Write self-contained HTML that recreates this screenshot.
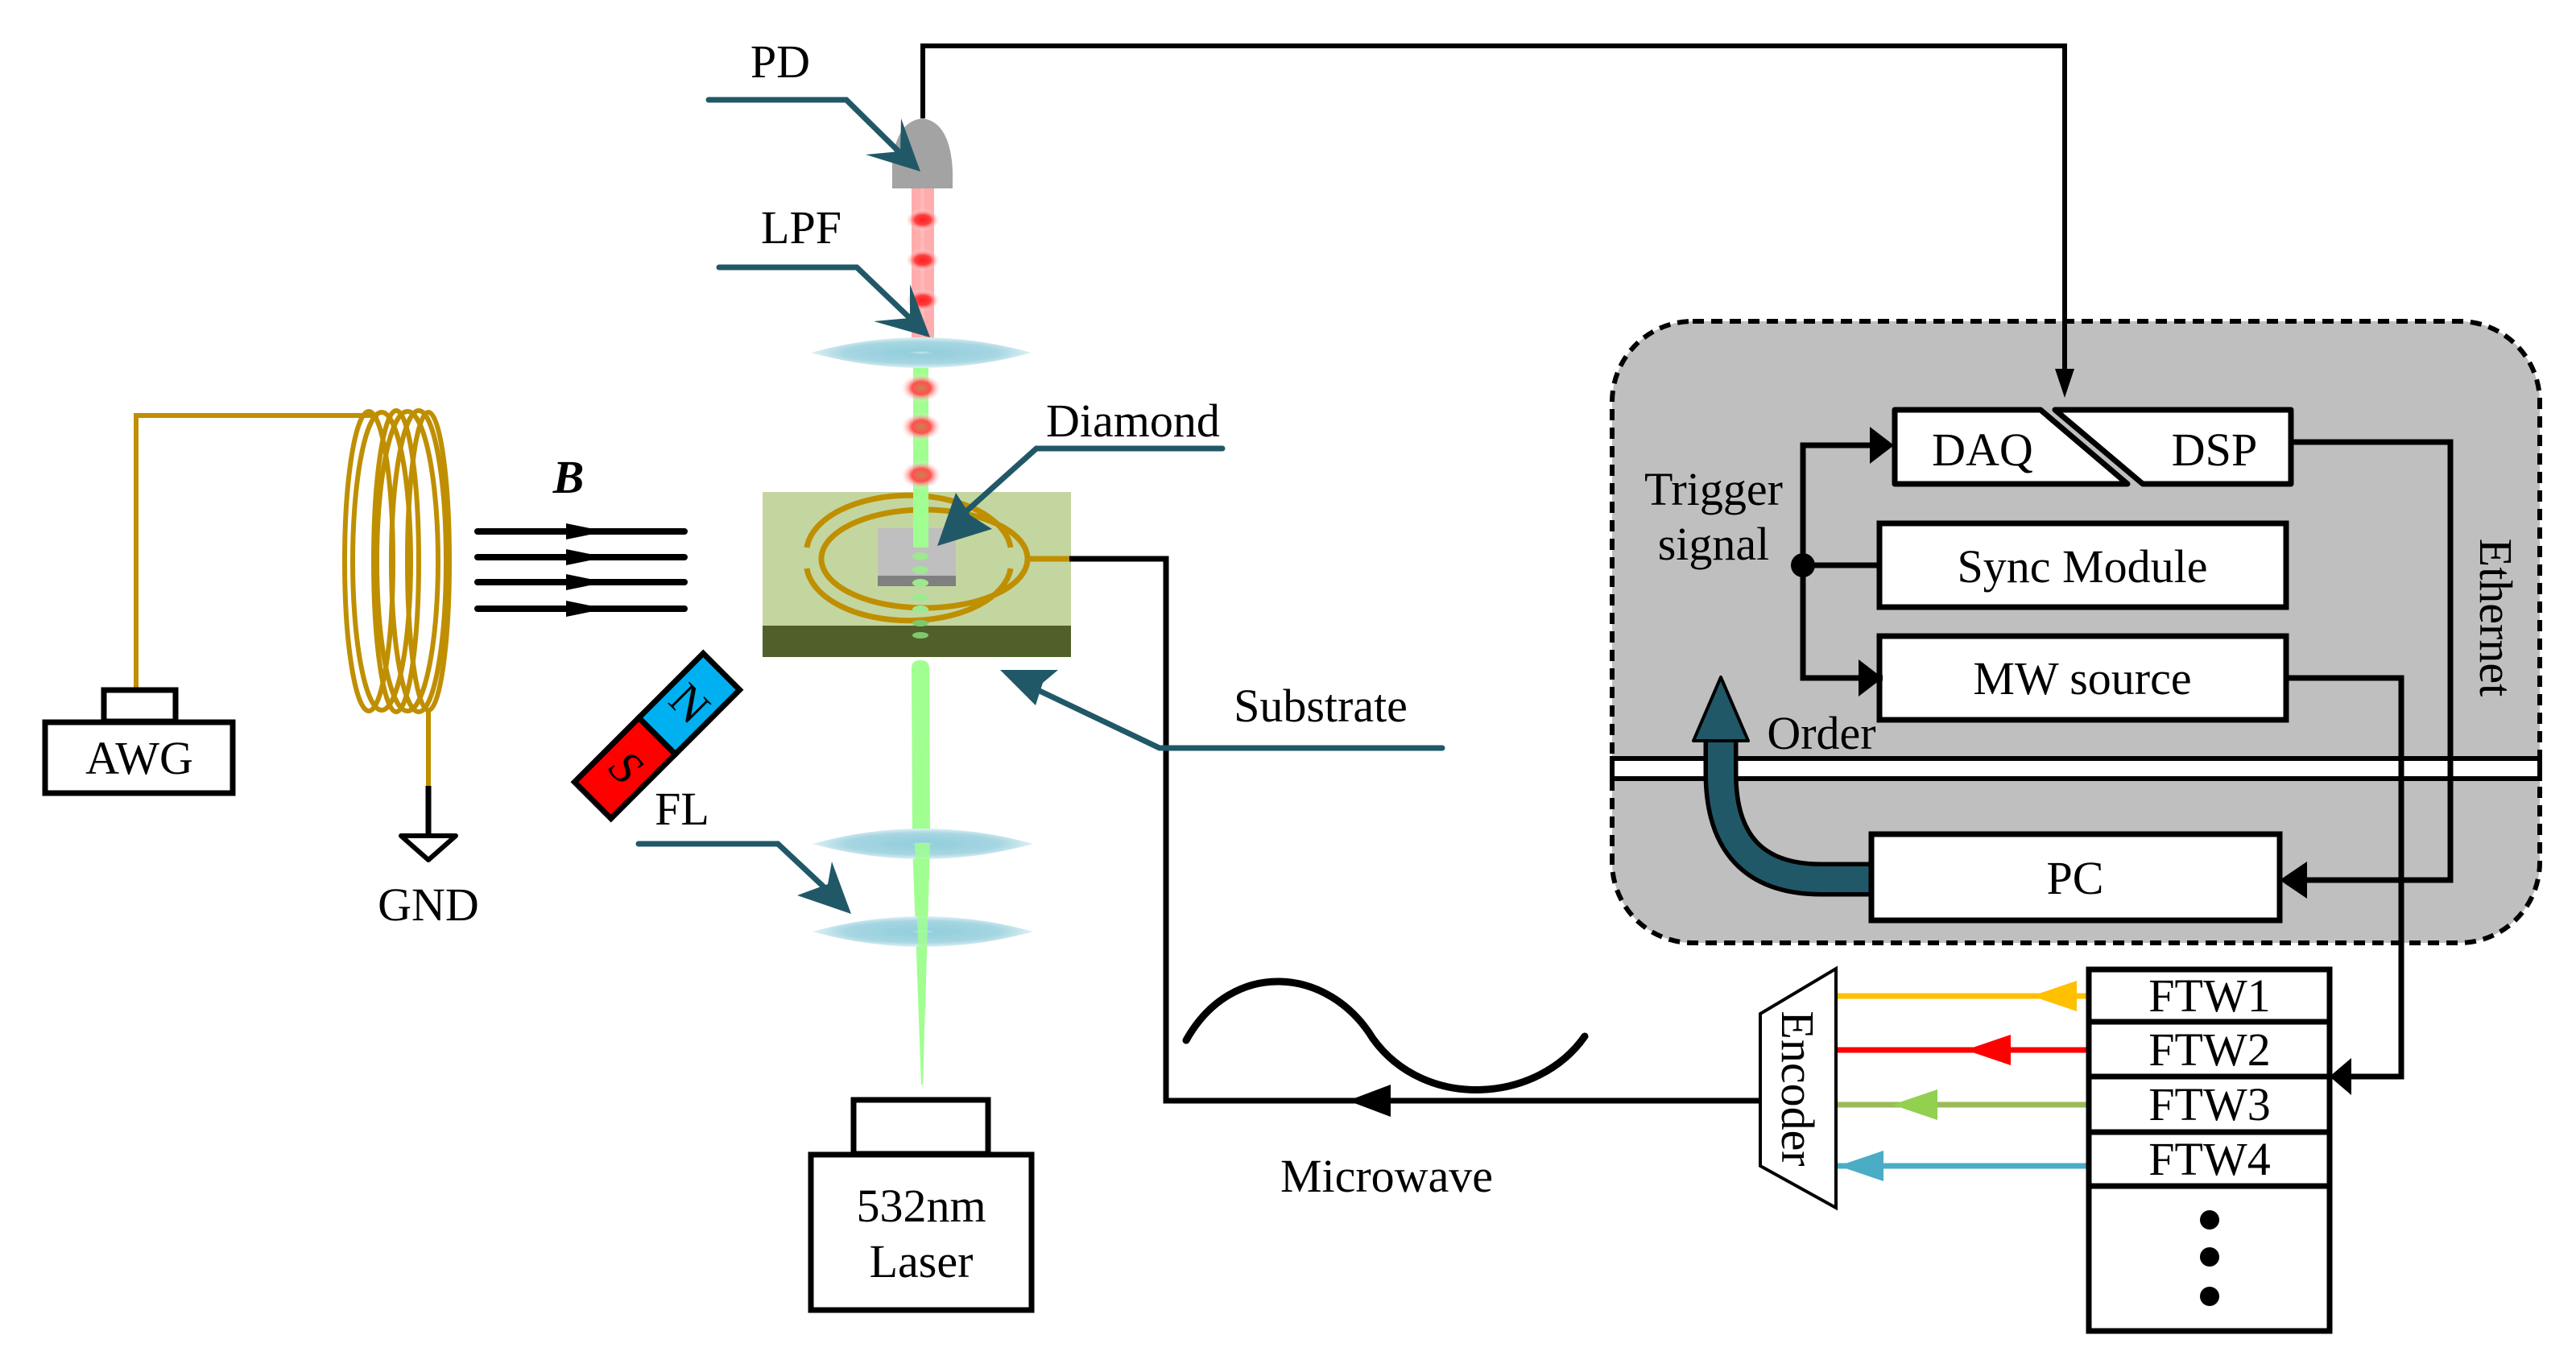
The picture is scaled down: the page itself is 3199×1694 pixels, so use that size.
<!DOCTYPE html>
<html><head><meta charset="utf-8"><style>
html,body{margin:0;padding:0;background:#fff}
svg{display:block}
text{font-family:"Liberation Serif","Times New Roman","DejaVu Serif",serif;font-size:58px;fill:#000}
</style></head><body>
<svg width="3199" height="1694" viewBox="0 0 3199 1694" xmlns="http://www.w3.org/2000/svg" font-family="'Liberation Serif','Times New Roman','DejaVu Serif',serif">
<defs>
<radialGradient id="lens" cx="0.5" cy="0.5" r="0.5">
<stop offset="0" stop-color="#c8e4ee"/><stop offset="0.12" stop-color="#94cedc"/><stop offset="0.7" stop-color="#a6d6e2"/><stop offset="1" stop-color="#dff0f5"/>
</radialGradient>
<radialGradient id="rdot" cx="0.5" cy="0.5" r="0.5">
<stop offset="0" stop-color="#ff2020"/><stop offset="0.45" stop-color="#ff4040"/><stop offset="1" stop-color="#ffffff" stop-opacity="0"/>
</radialGradient>
<radialGradient id="rdot2" cx="0.5" cy="0.5" r="0.5">
<stop offset="0" stop-color="#d08050"/><stop offset="0.45" stop-color="#ff5050"/><stop offset="1" stop-color="#ffffff" stop-opacity="0"/>
</radialGradient>
</defs>

<rect x="2002" y="399" width="1152" height="772" rx="100" fill="#bfbfbf" stroke="#000" stroke-width="6" stroke-dasharray="14,9"/>

<polyline points="1146,147 1146,57 2564,57 2564,470" fill="none" stroke="#000" stroke-width="6"/>
<polygon points="2552,458 2576,458 2564,494" fill="#000"/>

<rect x="1132" y="234" width="28" height="190" fill="#ff9090" opacity="0.75"/>
<rect x="1143" y="234" width="5" height="190" fill="#ffb8b8"/>
<path d="M1108,234 L1108,205 Q1112,150 1146,147 Q1180,152 1183,212 L1183,234 Z" fill="#a3a3a3"/>
<ellipse cx="1146" cy="273" rx="22" ry="14" fill="url(#rdot)"/>
<ellipse cx="1146" cy="323" rx="22" ry="14" fill="url(#rdot)"/>
<ellipse cx="1146" cy="373" rx="22" ry="14" fill="url(#rdot)"/>

<rect x="1134" y="440" width="19" height="240" fill="#a0ff90"/>
<ellipse cx="1144" cy="482" rx="26" ry="18" fill="url(#rdot2)"/>
<ellipse cx="1144" cy="530" rx="26" ry="18" fill="url(#rdot2)"/>
<ellipse cx="1144" cy="590" rx="26" ry="18" fill="url(#rdot2)"/>
<path d="M1007,438 Q1144,400 1281,438 Q1144,476 1007,438 Z" fill="url(#lens)"/>

<rect x="947" y="611" width="383" height="166" fill="#c4d6a0"/>
<rect x="947" y="777" width="383" height="39" fill="#51602b"/>
<rect x="1090" y="656" width="97" height="59" fill="#bfbfbf"/>
<rect x="1090" y="715" width="97" height="13" fill="#808080"/>
<path d="M1002,680 A127,71 0 0 1 1255,680" fill="none" stroke="#bf8f00" stroke-width="7"/>
<path d="M1002,706 A127,71 0 0 0 1255,706" fill="none" stroke="#bf8f00" stroke-width="7"/>
<ellipse cx="1148" cy="694" rx="128" ry="61" fill="none" stroke="#bf8f00" stroke-width="7"/>
<line x1="1276" y1="694" x2="1330" y2="694" stroke="#bf8f00" stroke-width="7"/>
<rect x="1134" y="611" width="19" height="69" fill="#a0ff90"/>
<g fill="#9ee890">
<ellipse cx="1143" cy="691" rx="10" ry="5"/><ellipse cx="1143" cy="708" rx="10" ry="5"/><ellipse cx="1143" cy="724" rx="10" ry="5"/><ellipse cx="1143" cy="742" rx="10" ry="5"/><ellipse cx="1143" cy="757" rx="10" ry="5"/><ellipse cx="1143" cy="774" rx="10" ry="4" fill="#80c870"/><ellipse cx="1143" cy="789" rx="10" ry="4" fill="#80c870"/>
</g>

<path d="M1132,830 Q1132,820 1143,820 Q1154,820 1154,830 L1155,1048 L1146,1347 L1144,1347 L1133,1048 Z" fill="#a0ff90"/>
<path d="M1009,1048 Q1146,1010 1283,1048 Q1146,1086 1009,1048 Z" fill="url(#lens)"/>
<path d="M1009,1157 Q1146,1119 1283,1157 Q1146,1195 1009,1157 Z" fill="url(#lens)"/>
<path d="M1136,1048 L1155,1048 L1146,1347 Z" fill="#a0ff90" opacity="0.85"/>

<rect x="1060" y="1366" width="167" height="67" fill="#fff" stroke="#000" stroke-width="7"/>
<rect x="1007" y="1434" width="274" height="193" fill="#fff" stroke="#000" stroke-width="7"/>
<text x="1144" y="1517" text-anchor="middle">532nm</text>
<text x="1144" y="1586" text-anchor="middle">Laser</text>

<polyline points="1328,694 1448,694 1448,1367 2186,1367" fill="none" stroke="#000" stroke-width="7"/>
<polygon points="1674,1367 1727,1347 1727,1387" fill="#000"/>
<path d="M1473,1292 C1530,1190 1650,1200 1705,1290 C1770,1380 1910,1370 1968,1287" fill="none" stroke="#000" stroke-width="9" stroke-linecap="round"/>
<text x="1722" y="1480" text-anchor="middle">Microwave</text>

<g stroke="#215868" stroke-width="7" fill="none" stroke-linecap="round">
<polyline points="880,124 1051,124 1118,190"/>
<polyline points="893,332 1064,332 1132,397"/>
<polyline points="1518,557 1287,557 1200,635"/>
<polyline points="793,1048 966,1048 1030,1108"/>
<polyline points="1791,929 1440,929 1270,848"/>
</g>
<g fill="#215868">
<polygon points="1143,213 1119,147 1118,188 1075,192"/>
<polygon points="1155,419 1130,353 1130,395 1085,399"/>
<polygon points="1164,678 1187,612 1205,640 1232,657"/>
<polygon points="1057,1135 1033,1070 1028,1098 990,1112"/>
<polygon points="1242,832 1314,832 1295,848 1286,876"/>
</g>
<text x="969" y="96" text-anchor="middle">PD</text>
<text x="995" y="302" text-anchor="middle">LPF</text>
<text x="1299" y="542">Diamond</text>
<text x="847" y="1024" text-anchor="middle">FL</text>
<text x="1640" y="896" text-anchor="middle">Substrate</text>

<polyline points="470,516 169,516 169,857" fill="none" stroke="#bf8f00" stroke-width="6"/>
<g fill="none" stroke="#bf8f00" stroke-width="6">
<ellipse cx="458" cy="697" rx="30" ry="186"/>
<ellipse cx="474" cy="697" rx="36" ry="185"/>
<ellipse cx="492" cy="697" rx="28" ry="187"/>
<ellipse cx="506" cy="697" rx="38" ry="186"/>
<ellipse cx="520" cy="697" rx="34" ry="187"/>
<ellipse cx="532" cy="697" rx="26" ry="185"/>
</g>
<line x1="532" y1="880" x2="532" y2="976" stroke="#bf8f00" stroke-width="6"/>
<line x1="532" y1="976" x2="532" y2="1037" stroke="#000" stroke-width="7"/>
<polygon points="498,1038 566,1038 532,1068" fill="#fff" stroke="#000" stroke-width="6" stroke-linejoin="round"/>
<text x="532" y="1143" text-anchor="middle">GND</text>
<rect x="129" y="857" width="89" height="39" fill="#fff" stroke="#000" stroke-width="7"/>
<rect x="56" y="897" width="233" height="88" fill="#fff" stroke="#000" stroke-width="7"/>
<text x="173" y="961" text-anchor="middle">AWG</text>

<g stroke="#000" stroke-width="8" stroke-linecap="round">
<line x1="593" y1="660" x2="850" y2="660"/><line x1="593" y1="692" x2="850" y2="692"/>
<line x1="593" y1="723" x2="850" y2="723"/><line x1="593" y1="756" x2="850" y2="756"/>
</g>
<g fill="#000">
<polygon points="703,650 752,660 703,670"/><polygon points="703,682 752,692 703,702"/>
<polygon points="703,713 752,723 703,733"/><polygon points="703,746 752,756 703,766"/>
</g>
<text x="706" y="612" text-anchor="middle" font-weight="bold" font-style="italic">B</text>

<g transform="translate(816,914) rotate(-45)">
<rect x="-113" y="-32" width="113" height="64" fill="#ff0000" stroke="#000" stroke-width="7"/>
<rect x="0" y="-32" width="113" height="64" fill="#00b0f0" stroke="#000" stroke-width="7"/>
<text x="-56" y="18" text-anchor="middle" font-size="50" font-style="italic" transform="rotate(90,-56,0)">S</text>
<text x="56" y="18" text-anchor="middle" font-size="50" transform="rotate(90,56,0)">N</text>
</g>

<path d="M2353,509 L2534,509 L2642,601 L2353,601 Z" fill="#fff" stroke="#000" stroke-width="7" stroke-linejoin="round"/>
<path d="M2552,509 L2845,509 L2845,601 L2661,601 Z" fill="#fff" stroke="#000" stroke-width="7" stroke-linejoin="round"/>
<text x="2462" y="578" text-anchor="middle">DAQ</text>
<text x="2750" y="578" text-anchor="middle">DSP</text>
<rect x="2334" y="650" width="505" height="104" fill="#fff" stroke="#000" stroke-width="7"/>
<text x="2586" y="723" text-anchor="middle">Sync Module</text>
<rect x="2334" y="790" width="505" height="104" fill="#fff" stroke="#000" stroke-width="7"/>
<text x="2586" y="862" text-anchor="middle">MW source</text>
<text x="2128" y="627" text-anchor="middle">Trigger</text>
<text x="2128" y="695" text-anchor="middle">signal</text>
<polyline points="2338,553 2239,553 2239,842 2338,842" fill="none" stroke="#000" stroke-width="7"/>
<line x1="2239" y1="702" x2="2334" y2="702" stroke="#000" stroke-width="7"/>
<circle cx="2239" cy="702" r="15" fill="#000"/>
<polygon points="2352,553 2322,530 2322,576" fill="#000"/>
<polygon points="2338,842 2308,819 2308,865" fill="#000"/>

<rect x="2002" y="942" width="1152" height="25" fill="#fff" stroke="#000" stroke-width="6"/>
<text transform="translate(3080,767) rotate(90)" text-anchor="middle">Ethernet</text>

<polyline points="2845,549 3043,549 3043,1093 2845,1093" fill="none" stroke="#000" stroke-width="7"/>
<polygon points="2831,1093 2865,1070 2865,1116" fill="#000"/>
<polyline points="2839,842 2982,842 2982,1337 2906,1337" fill="none" stroke="#000" stroke-width="7"/>
<polygon points="2893,1337 2920,1314 2920,1360" fill="#000"/>

<path d="M2137,918 L2137,960 Q2137,1092 2262,1092 L2324,1092" fill="none" stroke="#000" stroke-width="43"/>
<path d="M2137,914 L2137,960 Q2137,1092 2262,1092 L2326,1092" fill="none" stroke="#215868" stroke-width="32"/>
<polygon points="2137,841 2171,920 2103,920" fill="#215868" stroke="#000" stroke-width="4" stroke-linejoin="round"/>
<text x="2262" y="930" text-anchor="middle">Order</text>

<rect x="2324" y="1036" width="507" height="107" fill="#fff" stroke="#000" stroke-width="7"/>
<text x="2577" y="1110" text-anchor="middle">PC</text>

<polygon points="2280,1203 2280,1500 2186,1448 2186,1259" fill="#fff" stroke="#000" stroke-width="4"/>
<text transform="translate(2213,1352) rotate(90)" text-anchor="middle">Encoder</text>

<line x1="2282" y1="1237" x2="2594" y2="1237" stroke="#ffc000" stroke-width="7"/>
<polygon points="2523,1237 2579,1218 2579,1256" fill="#ffc000"/>
<line x1="2282" y1="1304" x2="2594" y2="1304" stroke="#ff0000" stroke-width="7"/>
<polygon points="2441,1304 2497,1285 2497,1323" fill="#ff0000"/>
<line x1="2282" y1="1372" x2="2594" y2="1372" stroke="#9bbb59" stroke-width="7"/>
<polygon points="2350,1372 2406,1353 2406,1391" fill="#92d050"/>
<line x1="2282" y1="1448" x2="2594" y2="1448" stroke="#4bacc6" stroke-width="7"/>
<polygon points="2283,1448 2339,1429 2339,1467" fill="#4bacc6"/>

<rect x="2594" y="1204" width="299" height="449" fill="#fff" stroke="#000" stroke-width="7"/>
<g stroke="#000" stroke-width="7">
<line x1="2594" y1="1269" x2="2893" y2="1269"/><line x1="2594" y1="1337" x2="2893" y2="1337"/>
<line x1="2594" y1="1406" x2="2893" y2="1406"/><line x1="2594" y1="1473" x2="2893" y2="1473"/>
</g>
<text x="2744" y="1256" text-anchor="middle">FTW1</text>
<text x="2744" y="1323" text-anchor="middle">FTW2</text>
<text x="2744" y="1391" text-anchor="middle">FTW3</text>
<text x="2744" y="1459" text-anchor="middle">FTW4</text>
<circle cx="2744" cy="1515" r="12"/><circle cx="2744" cy="1561" r="12"/><circle cx="2744" cy="1610" r="12"/>
</svg>
</body></html>
